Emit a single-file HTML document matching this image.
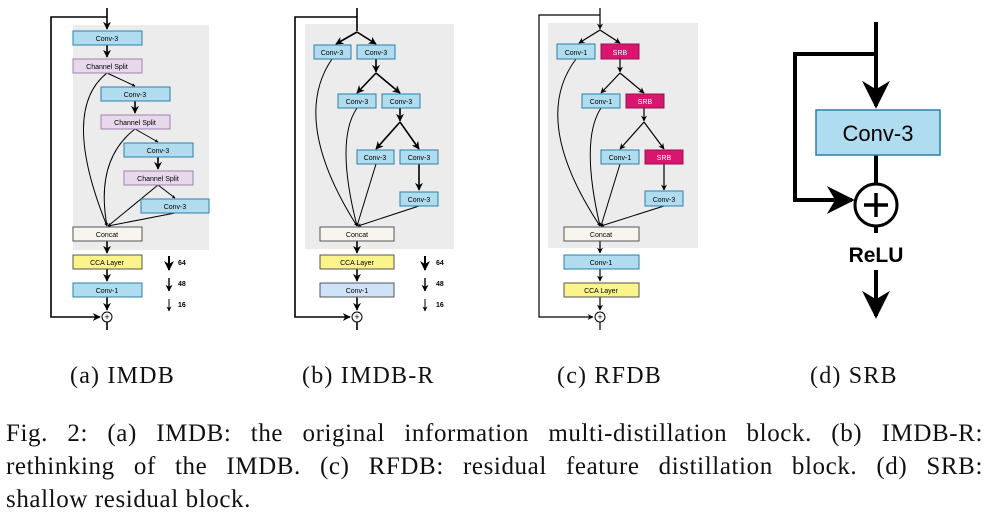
<!DOCTYPE html>
<html><head><meta charset="utf-8"><style>
body{margin:0;background:#fff;width:986px;height:520px;overflow:hidden;position:relative}
svg{position:absolute;left:0;top:0}
.cap{position:absolute;font-family:"Liberation Serif",serif;font-size:24px;letter-spacing:1.2px;color:#111;white-space:nowrap}
.fl{position:absolute;left:6px;width:977px;font-family:"Liberation Serif",serif;font-size:25px;letter-spacing:0.6px;color:#111;text-align:justify;text-align-last:justify;white-space:nowrap}
</style></head><body>
<svg width="986" height="360" viewBox="0 0 986 360" font-family="Liberation Sans, sans-serif">
<defs>
<marker id="a" viewBox="0 0 10 10" refX="9" refY="5" markerWidth="5" markerHeight="5" orient="auto"><path d="M0,0L10,5L0,10L3,5z" fill="#000"/></marker>
<marker id="b" viewBox="0 0 10 10" refX="9" refY="5" markerWidth="3.5" markerHeight="3.5" orient="auto"><path d="M0,0L10,5L0,10L3,5z" fill="#000"/></marker>
<marker id="c" viewBox="0 0 10 10" refX="9" refY="5" markerWidth="7" markerHeight="7" orient="auto"><path d="M0,0L10,5L0,10L3,5z" fill="#000"/></marker>
</defs>
<g font-size="7" text-anchor="middle">
<rect x="73" y="25" width="136" height="225" fill="#ececec"/>
<g stroke="#000" stroke-width="1.6" fill="none">
<path d="M107,8V29" marker-end="url(#a)"/>
<path d="M107,17H51V317H100" marker-end="url(#a)"/>
<path d="M107,45V57" marker-end="url(#a)"/>
<path d="M107,241V253" marker-end="url(#a)"/>
<path d="M107,269V281" marker-end="url(#a)"/>
<path d="M107,297V310" marker-end="url(#a)"/>
<path d="M107,322V330"/>
<path d="M135,101V113" marker-end="url(#a)"/>
<path d="M158,157V169" marker-end="url(#a)"/>
</g>
<g stroke="#000" stroke-width="1" fill="none">
<path d="M107,73L135,86" marker-end="url(#b)"/>
<path d="M135,129L158,142" marker-end="url(#b)"/>
<path d="M158,185L175,198" marker-end="url(#b)"/>
<path d="M107,73Q60,110 107,226" marker-end="url(#b)"/>
<path d="M135,129Q95,160 107,226" marker-end="url(#b)"/>
<path d="M158,185L108,226" marker-end="url(#b)"/>
<path d="M175,213L108,226" marker-end="url(#b)"/>
</g>
<g stroke-width="1" stroke="#2a7fa8">
<rect x="73" y="31" width="69" height="14" fill="#b0dcef"/>
<rect x="101" y="87" width="69" height="14" fill="#b0dcef"/>
<rect x="124" y="143" width="69" height="14" fill="#b0dcef"/>
<rect x="141" y="199" width="68" height="14" fill="#b0dcef"/>
<rect x="73" y="283" width="69" height="14" fill="#b0dcef"/>
</g>
<g stroke-width="1" stroke="#a080b0" fill="#e8d8ec">
<rect x="73" y="59" width="69" height="14"/>
<rect x="101" y="115" width="69" height="14"/>
<rect x="124" y="171" width="69" height="14"/>
</g>
<rect x="73" y="227" width="69" height="14" fill="#f8f5ee" stroke="#555"/>
<rect x="73" y="255" width="69" height="14" fill="#fbf48a" stroke="#555"/>
<text x="107" y="41">Conv-3</text><text x="107" y="69">Channel Split</text>
<text x="135" y="97">Conv-3</text><text x="135" y="125">Channel Split</text>
<text x="158" y="153">Conv-3</text><text x="158" y="181">Channel Split</text>
<text x="175" y="209">Conv-3</text><text x="107" y="237">Concat</text>
<text x="107" y="265">CCA Layer</text><text x="107" y="293">Conv-1</text>
<circle cx="107" cy="317" r="5" fill="#fff" stroke="#000"/><text x="107" y="320" font-size="9">+</text>
<g stroke="#000" fill="none"><path d="M169,256V270" stroke-width="2" marker-end="url(#a)"/><path d="M169,278V291" stroke-width="1.4" marker-end="url(#a)"/><path d="M169,299V311" stroke-width="1" marker-end="url(#a)"/></g>
<g font-weight="bold" text-anchor="start"><text x="178" y="265">64</text><text x="178" y="286">48</text><text x="178" y="307">16</text></g>

<rect x="305" y="24" width="149" height="225" fill="#ececec"/>
<g stroke="#000" stroke-width="1.6" fill="none">
<path d="M357,8V31"/>
<path d="M357,17H295V317H350" marker-end="url(#a)"/>
<path d="M357,32L336,44" marker-end="url(#a)"/><path d="M357,32L376,44" marker-end="url(#a)"/>
<path d="M376,59V72" marker-end="url(#a)"/>
<path d="M376,73L357,93" marker-end="url(#a)"/><path d="M376,73L400,93" marker-end="url(#a)"/>
<path d="M400,108V121" marker-end="url(#a)"/>
<path d="M400,122L376,149" marker-end="url(#a)"/><path d="M400,122L419,149" marker-end="url(#a)"/>
<path d="M419,164V190" marker-end="url(#a)"/>
<path d="M357,241V253" marker-end="url(#a)"/><path d="M357,269V281" marker-end="url(#a)"/><path d="M357,297V310" marker-end="url(#a)"/><path d="M357,322V330"/>
</g>
<g stroke="#000" stroke-width="1" fill="none">
<path d="M332,59Q290,120 357,226" marker-end="url(#b)"/>
<path d="M357,108Q335,140 357,226" marker-end="url(#b)"/>
<path d="M376,164L357,226" marker-end="url(#b)"/>
<path d="M419,206L358,226" marker-end="url(#b)"/>
</g>
<g stroke-width="1" stroke="#2a7fa8" fill="#b0dcef">
<rect x="314" y="45" width="37" height="14"/><rect x="357" y="45" width="38" height="14"/>
<rect x="338" y="94" width="38" height="14"/><rect x="382" y="94" width="38" height="14"/>
<rect x="357" y="150" width="37" height="14"/><rect x="400" y="150" width="38" height="14"/>
<rect x="400" y="192" width="38" height="14"/>
</g>
<rect x="320" y="227" width="74" height="14" fill="#f8f5ee" stroke="#555"/>
<rect x="320" y="255" width="74" height="14" fill="#fbf48a" stroke="#555"/>
<rect x="320" y="283" width="74" height="14" fill="#cfe3f8" stroke="#555"/>
<text x="332" y="55">Conv-3</text><text x="376" y="55">Conv-3</text>
<text x="357" y="104">Conv-3</text><text x="401" y="104">Conv-3</text>
<text x="375" y="160">Conv-3</text><text x="419" y="160">Conv-3</text>
<text x="419" y="202">Conv-3</text>
<text x="357" y="237">Concat</text><text x="357" y="265">CCA Layer</text><text x="357" y="293">Conv-1</text>
<circle cx="357" cy="317" r="5" fill="#fff" stroke="#000"/><text x="357" y="320" font-size="9">+</text>
<g stroke="#000" fill="none"><path d="M425,256V270" stroke-width="2" marker-end="url(#a)"/><path d="M425,278V291" stroke-width="1.4" marker-end="url(#a)"/><path d="M425,299V311" stroke-width="1" marker-end="url(#a)"/></g>
<g font-weight="bold" text-anchor="start"><text x="436" y="265">64</text><text x="436" y="286">48</text><text x="436" y="307">16</text></g>

<rect x="548" y="23" width="150" height="225" fill="#ececec"/>
<g stroke="#000" stroke-width="1.2" fill="none">
<path d="M600,8V29" marker-end="url(#a)"/>
<path d="M600,15H539V317H593" marker-end="url(#a)"/>
<path d="M600,30L579,43" marker-end="url(#a)"/><path d="M600,30L620,43" marker-end="url(#a)"/>
<path d="M620,59V72" marker-end="url(#a)"/>
<path d="M620,73L601,93" marker-end="url(#a)"/><path d="M620,73L644,93" marker-end="url(#a)"/>
<path d="M644,108V121" marker-end="url(#a)"/>
<path d="M644,122L620,149" marker-end="url(#a)"/><path d="M644,122L664,149" marker-end="url(#a)"/>
<path d="M664,164V190" marker-end="url(#a)"/>
<path d="M600,241V253" marker-end="url(#a)"/><path d="M600,269V281" marker-end="url(#a)"/><path d="M600,297V310" marker-end="url(#a)"/><path d="M600,322V330"/>
</g>
<g stroke="#000" stroke-width="1" fill="none">
<path d="M576,59Q530,120 600,226" marker-end="url(#b)"/>
<path d="M601,108Q580,140 600,226" marker-end="url(#b)"/>
<path d="M620,164L601,226" marker-end="url(#b)"/>
<path d="M664,206L601,226" marker-end="url(#b)"/>
</g>
<g stroke-width="1" stroke="#2a7fa8" fill="#b0dcef">
<rect x="557" y="44" width="38" height="15"/><rect x="582" y="94" width="38" height="14"/>
<rect x="601" y="150" width="38" height="14"/><rect x="645" y="191" width="38" height="15"/>
<rect x="564" y="255" width="75" height="14"/>
</g>
<g stroke-width="1" stroke="#9a1050" fill="#d81670">
<rect x="601" y="44" width="38" height="15"/><rect x="626" y="94" width="38" height="14"/><rect x="645" y="150" width="38" height="14"/>
</g>
<rect x="564" y="227" width="75" height="14" fill="#f8f5ee" stroke="#555"/>
<rect x="564" y="283" width="75" height="14" fill="#fbf48a" stroke="#555"/>
<text x="576" y="55">Conv-1</text><text x="601" y="104">Conv-1</text><text x="620" y="160">Conv-1</text>
<g fill="#fff"><text x="620" y="55">SRB</text><text x="645" y="104">SRB</text><text x="664" y="160">SRB</text></g>
<text x="664" y="202">Conv-3</text>
<text x="601" y="237">Concat</text><text x="601" y="265">Conv-1</text><text x="601" y="293">CCA Layer</text>
<circle cx="600" cy="317" r="5" fill="#fff" stroke="#000"/><text x="600" y="320" font-size="9">+</text>
</g>

<g stroke="#000" stroke-width="4" fill="none">
<path d="M876,22V106" marker-end="url(#c)"/>
<path d="M876,54H795V200H852" marker-end="url(#c)"/>
<path d="M876,155V184"/><path d="M876,226V233"/>
<path d="M876,270V316" marker-end="url(#c)"/>
</g>
<rect x="816" y="110" width="124" height="45" fill="#b0dcef" stroke="#2a7fa8" stroke-width="1.5"/>
<text x="878" y="141" font-size="22" text-anchor="middle">Conv-3</text>
<circle cx="876" cy="205" r="21" fill="#fff" stroke="#000" stroke-width="3"/>
<path d="M876,193V217M864,205H888" stroke="#000" stroke-width="3.5"/>
<text x="876" y="262" font-size="21" font-weight="bold" text-anchor="middle">ReLU</text>
</svg>
<div class="cap" style="left:70px;top:363px">(a) IMDB</div>
<div class="cap" style="left:302px;top:363px">(b) IMDB-R</div>
<div class="cap" style="left:557px;top:363px">(c) RFDB</div>
<div class="cap" style="left:810px;top:363px">(d) SRB</div>
<div class="fl" style="top:420px">Fig. 2: (a) IMDB: the original information multi-distillation block. (b) IMDB-R:</div>
<div class="fl" style="top:453px">rethinking of the IMDB. (c) RFDB: residual feature distillation block. (d) SRB:</div>
<div class="fl" style="top:486px;text-align-last:left">shallow residual block.</div>
</body></html>
